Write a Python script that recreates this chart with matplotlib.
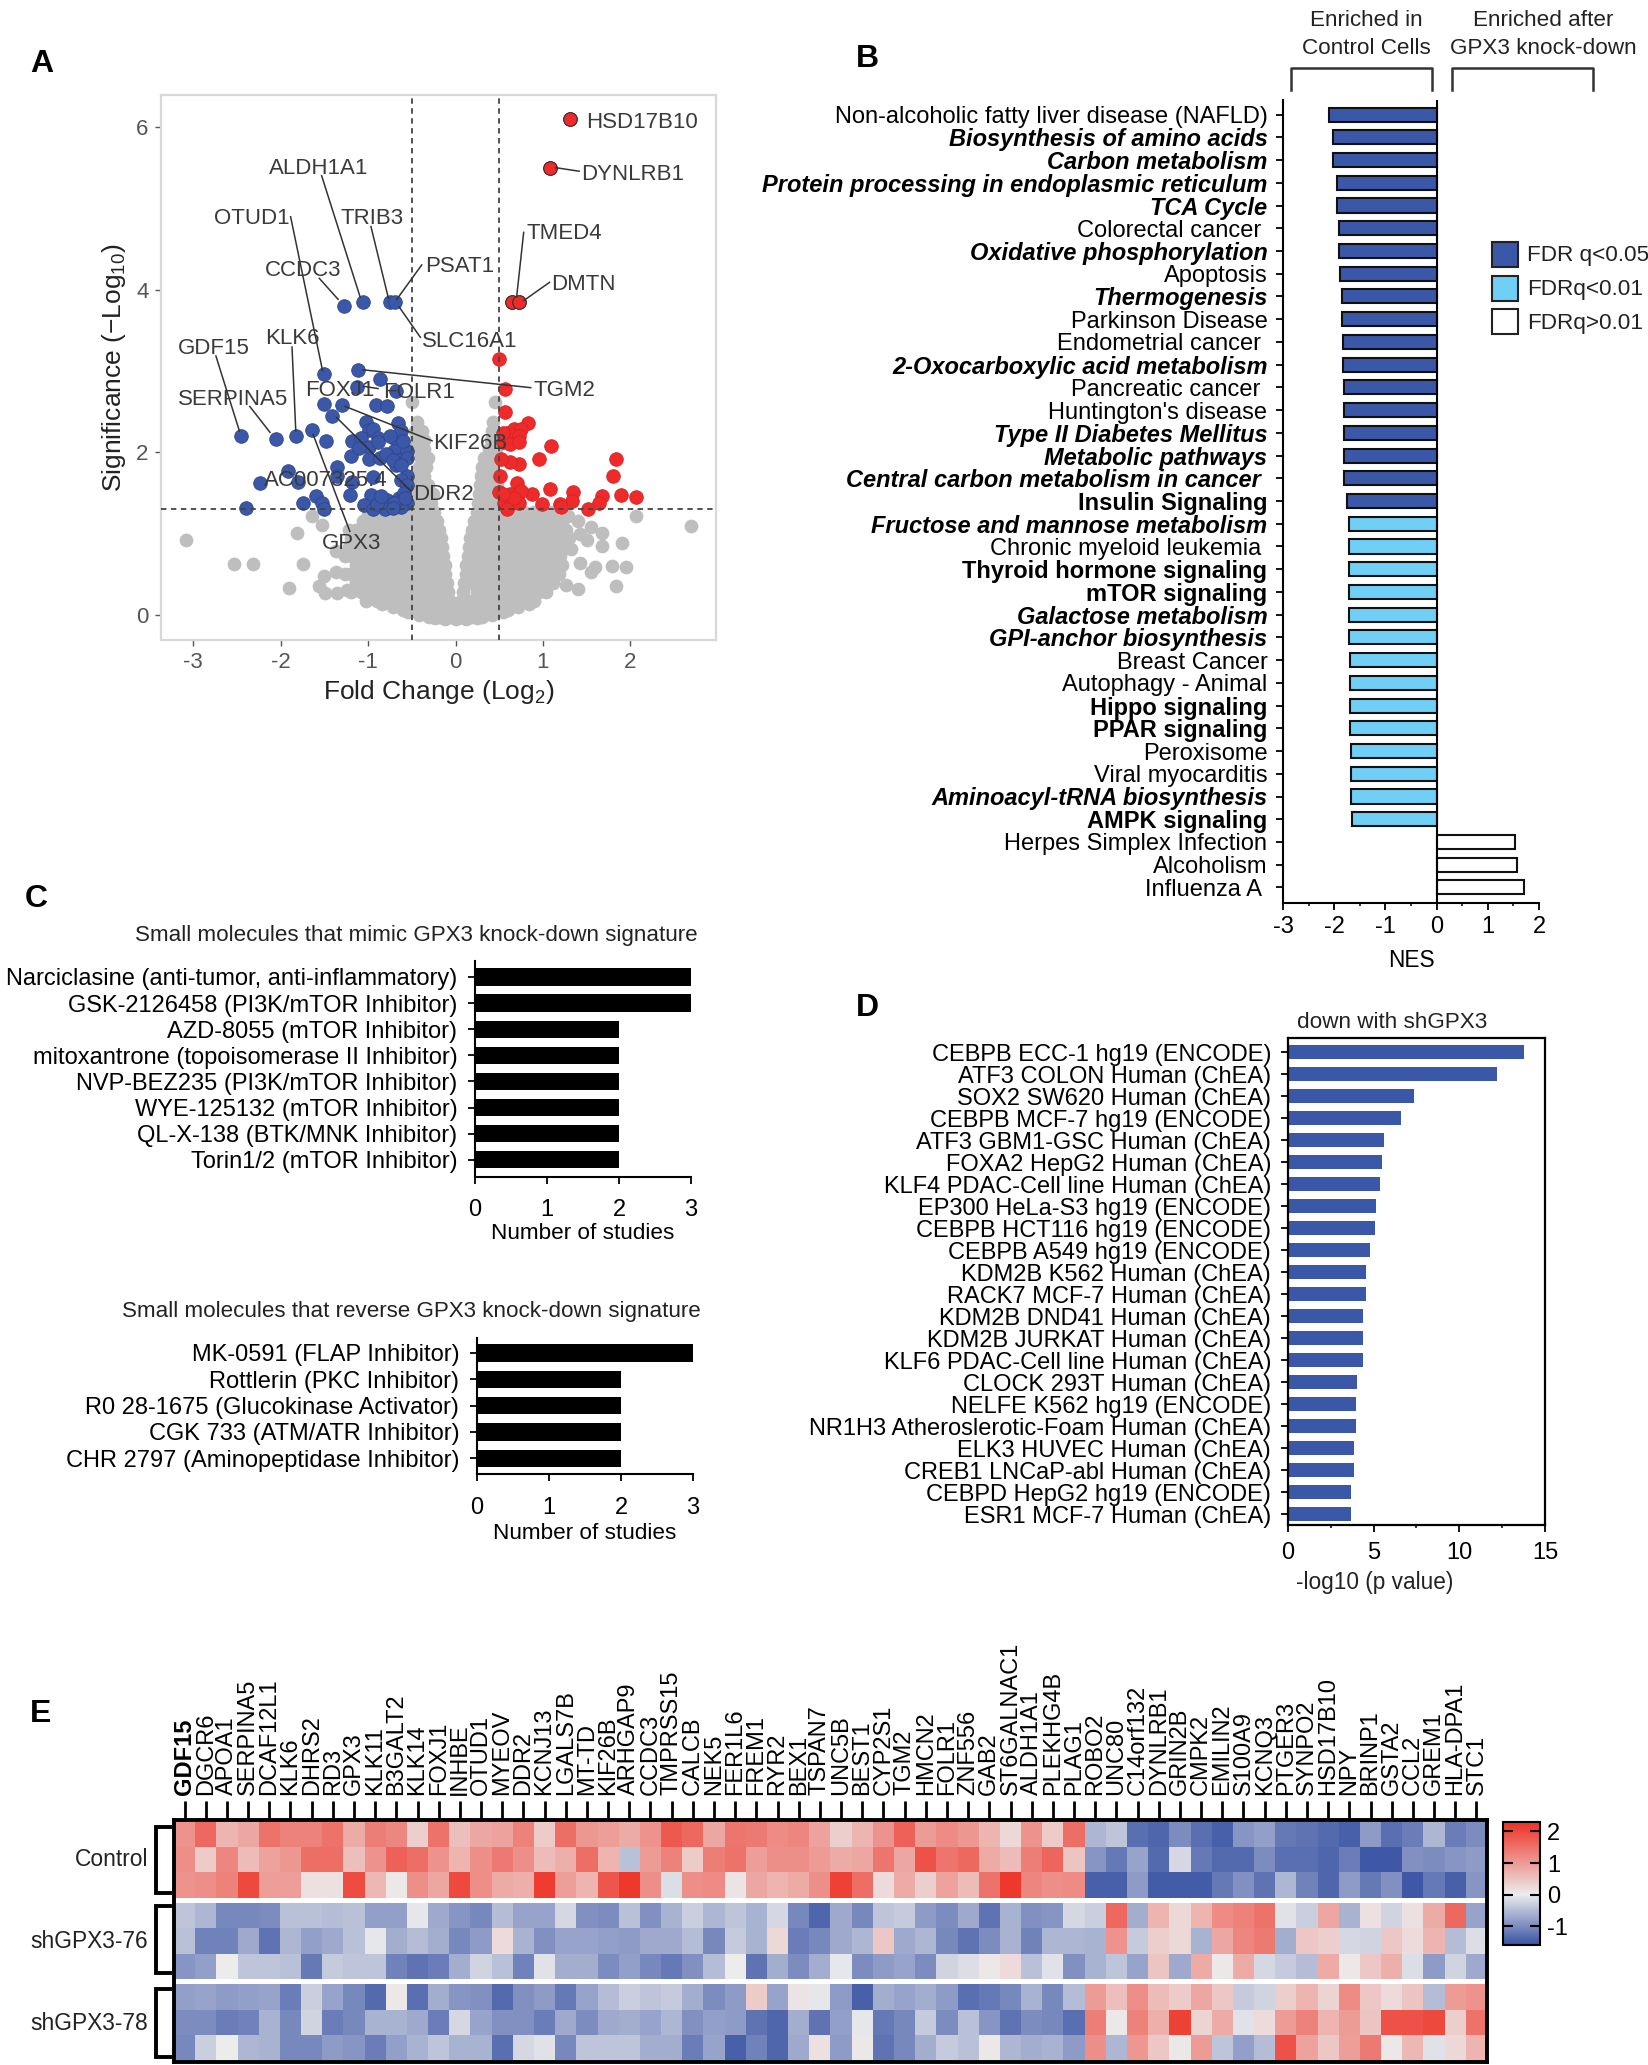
import numpy as np
import matplotlib
matplotlib.use("Agg")
import matplotlib.pyplot as plt
from matplotlib.colors import LinearSegmentedColormap, Normalize
from matplotlib.patches import Rectangle

plt.rcParams['font.family'] = ['Liberation Sans', 'DejaVu Sans']
plt.rcParams['mathtext.default'] = 'regular'
plt.rcParams['axes.unicode_minus'] = False

W, H = 1649, 2065
DARK = '#3B57A8'
LIGHT = '#6FCFF5'

# ---- panel A data
grey_levels = [-0.03, 0.06, 0.17, 0.28, 0.39, 0.50, 0.61, 0.72, 0.83, 0.94, 1.05, 1.16, 1.27,
               1.38, 1.49, 1.60, 1.71, 1.82, 1.93, 2.04, 2.15, 2.26, 2.37, 2.62]
grey_cols = [
    [-.30, -.18, -.06, .06, .18, .30],
    [-.60, -.48, -.36, -.24, -.12, 0, .12, .24, .36, .48, .60],
    [-1.02, -.90, -.78, -.66, -.54, -.42, -.30, -.18, -.06, .06, .18, .30, .42, .54, .66, .78, .90],
    [-1.20, -1.08, -.96, -.84, -.72, -.60, -.48, -.36, -.24, -.09, .09, .24, .36, .48, .60, .72, .84, .96, 1.04],
    [-1.14, -1.02, -.90, -.78, -.66, -.54, -.42, -.30, -.18, -.10, .10, .18, .30, .42, .54, .66, .78, .90, 1.02, 1.12],
    [-1.26, -1.20, -1.08, -.96, -.84, -.72, -.60, -.48, -.36, -.24, -.115, .115, .24, .36, .48, .60, .72, .84, .96, 1.08, 1.18],
    [-1.14, -1.02, -.90, -.78, -.66, -.54, -.42, -.30, -.18, -.125, .125, .18, .30, .42, .54, .66, .78, .90, 1.02, 1.14, 1.22],
    [-1.26, -1.20, -1.08, -.96, -.84, -.72, -.60, -.48, -.36, -.24, -.14, .14, .24, .36, .48, .60, .72, .84, .96, 1.08, 1.20],
    [-1.22, -1.14, -1.02, -.90, -.78, -.66, -.54, -.42, -.30, -.18, -.15, .15, .18, .30, .42, .54, .66, .78, .90, 1.02, 1.14, 1.26],
    [-1.20, -1.08, -.96, -.84, -.72, -.60, -.48, -.36, -.24, -.17, .17, .24, .36, .48, .60, .72, .84, .96, 1.08, 1.20, 1.30],
    [-1.22, -1.14, -1.02, -.90, -.78, -.66, -.54, -.42, -.30, -.19, .19, .30, .42, .54, .66, .78, .90, 1.02, 1.14, 1.26],
    [-1.06, -.96, -.84, -.72, -.60, -.48, -.36, -.215, .215, .36, .48, .60, .72, .84, .96, 1.08, 1.22],
    [-1.0, -.90, -.78, -.66, -.54, -.42, -.30, -.245, .245, .30, .42, .54, .66, .78, .90, .98, 1.10],
    [-.52, -.40, -.28, .26, .38, .50],
    [-.46, -.34, -.26, .27, .32, .44],
    [-.52, -.42, -.32, .28, .38, .48],
    [-.46, -.36, .29, .42],
    [-.42, -.34, .30, .40],
    [-.40, -.32, .32, .44],
    [-.44, -.36, .38, .46],
    [-.46, -.36, .40, .46],
    [-.46, -.38, .42],
    [-.44, .43],
    [-.50, .45],
]
grey_out_x = [-3.08, -2.54, -2.32, -1.9, -1.74, -1.81, -1.64, -1.53, -1.5, -1.37, -1.56, -1.49, -1.36, -1.24, -1.37,
              2.69, 2.07, 1.68, 1.68, 1.91, 1.55, 1.42, 1.5, 1.79, 1.95, 1.55, 1.59, 1.84, 1.4, 1.26, 1.42, 1.32, 1.16, 1.29, 1.4,
              -.42, .42, -.72, .72, -.84, .84, 0, -.12, .12, -.24, .24, -.54, .54]
grey_out_y = [.92, .63, .62, .33, .63, 1.01, 1.22, 1.11, .48, .53, .36, .27, .27, .31, .78,
              1.09, 1.22, 1.01, .85, .89, 1.08, 1.0, .92, .6, .59, .53, .59, .36, .32, .37, .64, .81, 1.16, 1.22, 1.16,
              0.0, 0.0, .1, .1, .13, .13, -.05, -.05, -.05, -.04, -.04, .03, .03]

blue_x = [-2.46, -2.05, -1.83, -1.64, -1.5, -1.12, -.86, -1.13, -.68, -1.5, -1.3, -.91, -.78, -1.41, -1.03, -.66,
          -.99, -.94, -1.48, -1.18, -1.08, -.89, -.7, -.62, -1.2, -.99, -.89, -.7, -.56, -.99, -.86, -.65, -.56, -.68,
          -1.36, -1.92, -2.24, -1.8, -1.36, -.94, -.55, -.62, -.56, -1.18, -1.21, -.97, -1.6, -1.53, -1.75, -2.4,
          -1.5, -1.05, -.95, -.78, -.65, -.56, -.59, -.67, -.81, -.62, -.75, -.69, -1.06, -1.28,
          -.75, -.6, -.8, -1.1, -.72, -.62, -.7, -.9, -.58, -.85, -.72]
blue_y = [2.2, 2.17, 2.2, 2.27, 2.96, 3.02, 2.9, 2.81, 2.75, 2.6, 2.58, 2.58, 2.57, 2.45, 2.37, 2.36,
          2.27, 2.29, 2.14, 2.14, 2.18, 2.18, 2.18, 2.26, 1.96, 2.07, 2.13, 2.02, 2.02, 1.92, 1.93, 1.91, 1.93, 1.85,
          1.82, 1.77, 1.62, 1.64, 1.71, 1.7, 1.71, 1.66, 1.6, 1.63, 1.48, 1.48, 1.46, 1.38, 1.38, 1.32,
          1.3, 1.35, 1.3, 1.41, 1.44, 1.38, 1.5, 1.36, 1.3, 1.33, 3.85, 3.85, 3.85, 3.8,
          2.2, 2.14, 1.98, 2.05, 1.9, 1.84, 1.38, 1.36, 1.44, 1.46, 1.32]
red_x = [1.31, 1.08, .65, .73, .5, .57, .57, .83, 1.09, .96, .73, .62, .52, 1.84, 1.8, 2.06, 1.89, 1.68, 1.64, 1.51,
         1.34, 1.33, 1.2, 1.21, 1.08, .99, .87, .7, .51, .5, .72, .62, .75, .56, .65, .59, .73, .67, .54,
         .54, .59, .67, .75, .65, .73, .54, .62, .73]
red_y = [6.11, 5.5, 3.85, 3.85, 3.15, 2.78, 2.5, 2.36, 2.08, 1.92, 1.86, 1.88, 1.92, 1.92, 1.71, 1.45, 1.47, 1.46, 1.38, 1.3,
         1.51, 1.4, 1.37, 1.33, 1.55, 1.37, 1.49, 1.62, 1.71, 1.51, 1.49, 1.49, 1.52, 1.38, 1.38, 1.3, 1.38, 1.44, 1.49,
         2.13, 2.24, 2.29, 2.29, 2.21, 2.2, 2.24, 2.1, 2.13]

# ---- panel B data
kegg_names = ['Non-alcoholic fatty liver disease (NAFLD)', 'Biosynthesis of amino acids', 'Carbon metabolism',
              'Protein processing in endoplasmic reticulum', 'TCA Cycle', 'Colorectal cancer ',
              'Oxidative phosphorylation', 'Apoptosis', 'Thermogenesis', 'Parkinson Disease', 'Endometrial cancer ',
              '2-Oxocarboxylic acid metabolism', 'Pancreatic cancer ', "Huntington's disease",
              'Type II Diabetes Mellitus', 'Metabolic pathways', 'Central carbon metabolism in cancer ',
              'Insulin Signaling', 'Fructose and mannose metabolism', 'Chronic myeloid leukemia ',
              'Thyroid hormone signaling', 'mTOR signaling', 'Galactose metabolism', 'GPI-anchor biosynthesis',
              'Breast Cancer', 'Autophagy - Animal', 'Hippo signaling', 'PPAR signaling', 'Peroxisome',
              'Viral myocarditis', 'Aminoacyl-tRNA biosynthesis', 'AMPK signaling', 'Herpes Simplex Infection',
              'Alcoholism', 'Influenza A ']
kegg_nes = [-2.11, -2.03, -2.03, -1.95, -1.95, -1.9, -1.9, -1.88, -1.85, -1.85, -1.82, -1.82, -1.8, -1.8, -1.8, -1.8,
            -1.8, -1.75, -1.72, -1.72, -1.72, -1.72, -1.72, -1.72, -1.7, -1.7, -1.7, -1.7, -1.68, -1.68, -1.68, -1.65,
            1.54, 1.57, 1.7]
kegg_style = ['n', 'bi', 'bi', 'bi', 'bi', 'n', 'bi', 'n', 'bi', 'n', 'n', 'bi', 'n', 'n', 'bi', 'bi', 'bi', 'b',
              'bi', 'n', 'b', 'b', 'bi', 'bi', 'n', 'n', 'b', 'b', 'n', 'n', 'bi', 'b', 'n', 'n', 'n']
kegg_level = [0] * 18 + [1] * 14 + [2] * 3
level_colors = [DARK, LIGHT, 'white']
legend_names = ['FDR q<0.05', 'FDRq<0.01', 'FDRq>0.01']

# ---- panel C data
mimic_names = ['Narciclasine (anti-tumor, anti-inflammatory)', 'GSK-2126458 (PI3K/mTOR Inhibitor)',
               'AZD-8055 (mTOR Inhibitor)', 'mitoxantrone (topoisomerase II Inhibitor)',
               'NVP-BEZ235 (PI3K/mTOR Inhibitor)', 'WYE-125132 (mTOR Inhibitor)', 'QL-X-138 (BTK/MNK Inhibitor)',
               'Torin1/2 (mTOR Inhibitor)']
mimic_vals = [3, 3, 2, 2, 2, 2, 2, 2]
reverse_names = ['MK-0591 (FLAP Inhibitor)', 'Rottlerin (PKC Inhibitor)', 'R0 28-1675 (Glucokinase Activator)',
                 'CGK 733 (ATM/ATR Inhibitor)', 'CHR 2797 (Aminopeptidase Inhibitor)']
reverse_vals = [3, 2, 2, 2, 2]

# ---- panel D data
tf_names = ['CEBPB ECC-1 hg19 (ENCODE)', 'ATF3 COLON Human (ChEA)', 'SOX2 SW620 Human (ChEA)',
            'CEBPB MCF-7 hg19 (ENCODE)', 'ATF3 GBM1-GSC Human (ChEA)', 'FOXA2 HepG2 Human (ChEA)',
            'KLF4 PDAC-Cell line Human (ChEA)', 'EP300 HeLa-S3 hg19 (ENCODE)', 'CEBPB HCT116 hg19 (ENCODE)',
            'CEBPB A549 hg19 (ENCODE)', 'KDM2B K562 Human (ChEA)', 'RACK7 MCF-7 Human (ChEA)',
            'KDM2B DND41 Human (ChEA)', 'KDM2B JURKAT Human (ChEA)', 'KLF6 PDAC-Cell line Human (ChEA)',
            'CLOCK 293T Human (ChEA)', 'NELFE K562 hg19 (ENCODE)', 'NR1H3 Atheroslerotic-Foam Human (ChEA)',
            'ELK3 HUVEC Human (ChEA)', 'CREB1 LNCaP-abl Human (ChEA)', 'CEBPD HepG2 hg19 (ENCODE)',
            'ESR1 MCF-7 Human (ChEA)']
tf_vals = [13.8, 12.2, 7.35, 6.6, 5.6, 5.5, 5.35, 5.15, 5.05, 4.8, 4.55, 4.55, 4.35, 4.35, 4.35, 4.0, 3.95, 3.95, 3.85,
           3.85, 3.7, 3.7]

# ---- panel E data
genes = ['GDF15', 'DGCR6', 'APOA1', 'SERPINA5', 'DCAF12L1', 'KLK6', 'DHRS2', 'RD3', 'GPX3', 'KLK11', 'B3GALT2', 'KLK14',
         'FOXJ1', 'INHBE', 'OTUD1', 'MYEOV', 'DDR2', 'KCNJ13', 'LGALS7B', 'MT-TD', 'KIF26B', 'ARHGAP9', 'CCDC3',
         'TMPRSS15', 'CALCB', 'NEK5', 'FER1L6', 'FREM1', 'RYR2', 'BEX1', 'TSPAN7', 'UNC5B', 'BEST1', 'CYP2S1', 'TGM2',
         'HMCN2', 'FOLR1', 'ZNF556', 'GAB2', 'ST6GALNAC1', 'ALDH1A1', 'PLEKHG4B', 'PLAG1', 'ROBO2', 'UNC80', 'C14orf132',
         'DYNLRB1', 'GRIN2B', 'CMPK2', 'EMILIN2', 'S100A9', 'KCNQ3', 'PTGER3', 'SYNPO2', 'HSD17B10', 'NPY', 'BRINP1',
         'GSTA2', 'CCL2', 'GREM1', 'HLA-DPA1', 'STC1']
control_1 = [1.1, 1.6, .7, .85, 1.5, 1.3, 1.3, 1.5, .8, 1.35, 1.25, .35, 1.5, .55, .85, .9, 1.3, .4, 1.55, 1.05, .95, .8,
             1.1, 1.8, 1.6, .85, 1.45, 1.4, 1.2, 1.25, .9, .35, .7, 1.1, 1.7, 1.0, 1.2, 1.05, .7, .25, 1.1, .4, 1.55,
             -.55, -.4, -1.3, -1.4, -1.0, -1.3, -1.45, -.9, -.8, -1.2, -1.25, -1.35, -1.45, -.85, -1.3, -1.15, -.55, -1.15, -1.0]
control_2 = [1.15, .4, 1.25, .6, .9, 1.05, 1.55, 1.55, .55, 1.1, 1.7, 1.55, 1.1, .7, 1.15, 1.4, 1.15, .6, .75, 1.55, .7, -.45,
             1.0, 1.3, .4, 1.35, 1.5, .95, 1.15, 1.15, 1.0, .8, .85, 1.45, .85, 1.9, 1.45, 1.6, .8, .6, 1.35, 1.65, .5,
             -.9, -1.2, -.75, -1.35, -.2, -1.2, -1.35, -1.35, -1.0, -1.3, -1.3, -1.4, -1.15, -1.55, -1.55, -.95, -1.0, -.9, -.85]
control_3 = [1.1, 1.15, 1.3, 2.0, .95, .95, .15, .15, 1.95, .65, .05, 1.15, .85, 2.0, 1.15, .8, .75, 2.15, .95, .7, 1.85, 2.2,
             1.15, -.15, 1.15, 1.2, .1, .85, .7, .8, 1.15, 2.1, 1.55, .2, .8, .35, .9, .6, 1.5, 2.2, 1.25, 1.15, 1.2,
             -1.45, -1.45, -.85, -1.5, -1.5, -1.5, -1.2, -.95, -1.25, -.55, -1.1, -1.4, -.85, -1.2, -.95, -1.55, -1.2, -1.45, -.9]
sh76_1 = [-.4, -.55, -1.05, -1.05, -1.0, -.45, -.45, -.5, -.45, -.8, -.8, -.05, -.7, -.9, -1.05, -.5, -.75, -.75, -.2, -.95,
          -1.0, -.45, -.95, -.6, -.3, -.55, -.4, -.6, -.2, -1.05, -1.4, -.7, -1.05, -.4, -.35, -.85, -1.0, -.7, -1.25, -.6,
          -.95, -.9, -.2, -.3, 1.6, -.65, .7, .25, .7, 1.2, 1.3, 1.5, -.1, -.3, .85, -.6, .15, -.25, .15, .8, 1.6, -.75]
sh76_2 = [-.45, -1.1, -1.1, -.7, -1.25, -.55, -.8, -.7, -.45, -.05, -.65, -.5, -.65, -1.05, -.85, .2, -.6, -.95, -.75, -.75,
          -.8, -.85, -.7, -.7, -.5, -1.05, -.35, -.6, .25, -1.15, -1.05, -.7, -.55, .45, -.7, -.55, -1.05, -1.25, -1.0, -.6,
          -1.1, -.55, -.55, -.6, 1.1, -.35, .35, .25, -.6, .85, 1.25, 1.4, -.65, .45, .35, -.2, -.25, .45, .2, .7, -.5, -.15]
sh76_3 = [-.9, -.8, 0, -.4, -.4, -.45, -1.2, -.35, -.4, -.4, -1.1, -1.25, -1.15, -.65, -.25, -.45, -1.1, -.1, -.65, -.65,
          -1.0, -.8, -1.05, -1.2, -.95, -.5, 0, -1.25, -.65, -1.0, -.65, -.05, -1.0, -.85, -.75, -1.0, -.25, -.15, .05, .2,
          -.45, -.1, -.95, -.6, -.4, -.75, .5, -.7, .8, .05, .8, -.2, -.35, -.5, .8, .05, .45, .75, -.15, -.85, -.25, -.7]
sh78_1 = [-.8, -.75, -.85, -.8, -.75, -1.15, -.3, -.75, -1.05, -1.35, .05, -1.3, -.65, -.9, -.95, -1.35, -.95, -.85, -1.2, -.75,
          -.5, -.3, -.4, -.35, -.65, -1.0, -.85, .4, -.75, .1, -.05, -.85, -1.45, -.65, -.75, -.65, -.85, -1.3, -1.2, -1.05,
          -.6, -1.05, -.5, 1.0, .55, 1.15, .6, .4, .85, .45, -.35, -.25, .35, .7, .3, 1.2, .45, .2, .5, -.5, 1.0, 1.1]
sh78_2 = [-1.0, -1.0, -1.15, -1.1, -.6, -1.05, -.25, -1.15, -1.05, -.6, -.6, -.7, -1.15, -.2, -.75, -.95, -.95, -1.15, -.7, -1.0,
          -.7, -.65, -.75, -.55, -.95, -.8, -.85, -1.25, -1.4, -.65, -1.25, -.8, -.05, -1.2, -1.05, -.35, -1.0, -.45, -.9, -1.25,
          -1.0, -1.05, -1.3, 1.35, .05, 1.3, .75, 2.1, .3, .8, -.1, .2, 1.0, 1.3, .7, 1.0, .5, 1.9, 1.9, 2.0, .35, 1.5]
sh78_3 = [-1.05, -.3, 0, -.55, -.6, -1.05, -1.05, -.85, -.9, -1.15, -.8, -.6, -.4, -.6, -.6, -1.3, -.2, -.1, -1.05, -.4,
          -.4, -.4, -.65, -.65, -1.15, -.75, -1.45, -1.1, -1.4, -.7, .15, -.85, .05, -1.25, -1.05, -.65, -.35, -.45, .05, -.55,
          -.65, -.6, -.85, 1.15, -.55, 1.05, .45, .05, 1.0, -.4, -.8, -.5, 1.9, .9, .45, .95, 1.4, .05, .65, -.1, .25, .7]
row_groups = ['Control', 'shGPX3-76', 'shGPX3-78']

fig = plt.figure(figsize=(W / 100, H / 100), dpi=100, facecolor='white')


def add_ax(l, t, r, b):
    return fig.add_axes([l / W, 1 - b / H, (r - l) / W, (b - t) / H])


def set_rows(ax, t, b, first, step):
    ax.set_ylim((b - first) / step, (t - first) / step)


# overlay in pixels for letters, brackets and legends
lay = fig.add_axes([0, 0, 1, 1], zorder=5)
lay.set_xlim(0, W)
lay.set_ylim(H, 0)
lay.axis('off')
for letter, x, y in [('A', 42, 64), ('B', 867, 59), ('C', 36, 899), ('D', 867, 1008), ('E', 41, 1714)]:
    lay.text(x, y, letter, fontsize=23, fontweight='bold', ha='center', va='center')

# ---- A
ax = add_ax(161, 95, 716, 640)
grey_x = [v for row in grey_cols for v in row]
grey_y = [lev for lev, row in zip(grey_levels, grey_cols) for v in row]
ax.scatter(grey_x, grey_y, s=98, color='#BEBEBE', lw=0, zorder=2)
ax.scatter(grey_out_x, grey_out_y, s=98, color='#BEBEBE', lw=0, zorder=2)
ax.scatter(blue_x, blue_y, s=96, color=DARK, edgecolor='#2F4690', lw=0.6, zorder=3)
ax.scatter(red_x, red_y, s=96, color='#EE2A2A', edgecolor='#D82424', lw=0.6, zorder=3)
ax.scatter(red_x[:4], red_y[:4], s=96, color='#EE2A2A', edgecolor='#333333', lw=0.8, zorder=4)
ax.set_xlim(-3.37, 2.98)
ax.set_ylim(-0.31, 6.40)
for v in [-0.5, 0.5]:
    ax.axvline(v, color='#444444', lw=1.3, ls=(0, (3, 2.5)), zorder=5)
ax.axhline(1.3, color='#444444', lw=1.3, ls=(0, (3, 2.5)), zorder=5)
ax.set_xticks([-3, -2, -1, 0, 1, 2])
ax.set_yticks([0, 2, 4, 6])
ax.tick_params(labelsize=16, colors='#555555', length=4, width=1, pad=5)
for s in ax.spines.values():
    s.set_color('#D8D8D8')
    s.set_linewidth(1.6)
ax.set_xlabel('Fold Change (Log$_2$)', fontsize=19, labelpad=3, color='#222222')
ax.set_ylabel('Significance (−Log$_{10}$)', fontsize=19, labelpad=6, color='#222222')


def zx(p):
    return (p - 965) / 186


def zy(p):
    return (1312 - p) / 182


vol_labels = [('ALDH1A1', 568, 306), ('OTUD1', 450, 420), ('TRIB3', 720, 420), ('PSAT1', 900, 527), ('TMED4', 1117, 453),
              ('DMTN', 1168, 567), ('CCDC3', 560, 535), ('SLC16A1', 893, 695), ('KLK6', 560, 688), ('GDF15', 375, 710),
              ('SERPINA5', 375, 824), ('FOXJ1', 645, 805), ('FOLR1', 810, 808), ('TGM2', 1130, 805), ('KIF26B', 918, 923),
              ('AC007325.4', 557, 1005), ('DDR2', 875, 1037), ('GPX3', 680, 1148), ('HSD17B10', 1242, 203),
              ('DYNLRB1', 1233, 320)]
vol_lines = [(680, 328, 762, 600), (614, 420, 682, 765), (785, 442, 822, 602), (893, 528, 840, 605), (1110, 455, 1095, 600),
             (1165, 567, 1110, 608), (675, 558, 715, 605), (890, 690, 845, 622), (617, 712, 625, 900), (455, 732, 505, 900),
             (527, 845, 570, 903), (1125, 803, 768, 763), (770, 800, 800, 805), (915, 922, 730, 845), (870, 1035, 712, 870),
             (740, 1125, 662, 908), (1228, 318, 1178, 310)]
for x0, y0, x1, y1 in vol_lines:
    ax.plot([zx(x0), zx(x1)], [zy(y0), zy(y1)], color='#333333', lw=1.1, zorder=6)
for name, px, py in vol_labels:
    ax.text(zx(px), zy(py + 5), name, fontsize=16, color='#3A3A3A', ha='left', va='center', zorder=7)

# ---- B
ax = add_ax(1283, 100, 1539, 903)
rows = np.arange(len(kegg_names))
ax.barh(rows, kegg_nes, height=0.62, color=[level_colors[i] for i in kegg_level], edgecolor='#111111', lw=1.5)
ax.axvline(0, color='black', lw=1.5)
ax.set_xlim(-3, 2)
set_rows(ax, 100, 903, 114.6, 22.73)
ax.set_xticks([-3, -2, -1, 0, 1, 2])
ax.set_xticks([-2.5, -1.5, -.5, .5, 1.5], minor=True)
ax.set_yticks(rows)
ax.set_yticklabels(kegg_names)
for lab, st in zip(ax.get_yticklabels(), kegg_style):
    if 'b' in st:
        lab.set_fontweight('bold')
    if 'i' in st:
        lab.set_fontstyle('italic')
ax.tick_params(axis='y', labelsize=17, length=4.7, width=1.3, pad=6.5)
ax.tick_params(axis='x', labelsize=17, length=4.7, width=1.3, pad=4.5)
ax.tick_params(axis='x', which='minor', length=2.5, width=1.1)
ax.spines[['top', 'right']].set_visible(False)
ax.spines[['left', 'bottom']].set_linewidth(1.5)
ax.set_xlabel('NES', fontsize=16.3, labelpad=8)
for cx, l1, l2 in [(1366, 'Enriched in', 'Control Cells'), (1543, 'Enriched after', 'GPX3 knock-down')]:
    lay.text(cx, 20, l1, fontsize=16.2, ha='center', va='center', color='#222222')
    lay.text(cx, 48, l2, fontsize=16.2, ha='center', va='center', color='#222222')
for x0, x1 in [(1291, 1432), (1452, 1593)]:
    lay.plot([x0, x0, x1, x1], [90, 68, 68, 90], color='#333333', lw=1.8)
for i, (name, col) in enumerate(zip(legend_names, level_colors)):
    y0 = [242, 276, 309][i]
    lay.add_patch(Rectangle((1492, y0), 26, 25, fc=col, ec='#222222', lw=1.5))
    lay.text(1527, y0 + 14, name, fontsize=16.2, va='center', color='#222222')

# ---- C
for names, vals, box, first, step, title, tx, ty, lpad in [
        (mimic_names, mimic_vals, (475, 961, 691, 1177), 977, 26.1,
         'Small molecules that mimic GPX3 knock-down signature', 416, 936, 1),
        (reverse_names, reverse_vals, (477, 1338, 693, 1474), 1353, 26.3,
         'Small molecules that reverse GPX3 knock-down signature', 411, 1312, 3)]:
    ax = add_ax(*box)
    r = np.arange(len(names))
    ax.barh(r, vals, height=0.66, color='black')
    ax.set_xlim(0, 3)
    set_rows(ax, box[1], box[3], first, step)
    ax.set_xticks([0, 1, 2, 3])
    ax.set_yticks(r)
    ax.set_yticklabels(names)
    ax.tick_params(axis='x', labelsize=17, length=4.7, width=1.3, pad=11.5)
    ax.tick_params(axis='y', labelsize=17, length=4.7, width=1.3, pad=8)
    ax.spines[['top', 'right']].set_visible(False)
    ax.spines[['left', 'bottom']].set_linewidth(1.5)
    ax.set_xlabel('Number of studies', fontsize=16.2, labelpad=lpad)
    lay.text(tx, ty, title, fontsize=16.1, ha='center', va='center', color='#222222')

# ---- D
ax = add_ax(1288, 1038, 1545, 1525)
r = np.arange(len(tf_names))
ax.barh(r, tf_vals, height=0.6, color=DARK)
ax.set_xlim(0, 15)
set_rows(ax, 1038, 1525, 1052, 22.0)
ax.set_xticks([0, 5, 10, 15])
ax.set_xticks([2.5, 7.5, 12.5], minor=True)
ax.set_yticks(r)
ax.set_yticklabels(tf_names)
ax.tick_params(axis='x', labelsize=17, length=4.7, width=1.3, pad=7.5)
ax.tick_params(axis='x', which='minor', length=2.5, width=1.1)
ax.tick_params(axis='y', labelsize=17, length=4.7, width=1.3, pad=7.5)
for s in ax.spines.values():
    s.set_linewidth(1.6)
lay.text(1375, 1582, '-log10 (p value)', fontsize=16.3, ha='center', va='center', color='#222222')
lay.text(1297, 1022, 'down with shGPX3', fontsize=16.2, ha='left', va='center', color='#222222')

# ---- E
cmap = LinearSegmentedColormap.from_list('bwr2', [(0, '#3953A4'), (1.6 / 3.9, '#ECECEC'), (1, '#EE3124')])
norm = Normalize(-1.6, 2.3)
ax = add_ax(174, 1820, 1487, 2062)
blocks = [[control_1, control_2, control_3], [sh76_1, sh76_2, sh76_3], [sh78_1, sh78_2, sh78_3]]
for k, block in enumerate(blocks):
    ys = np.array([0, 1, 2, 3]) + k * 3.21
    ax.pcolormesh(np.arange(len(genes) + 1), ys, np.array(block), cmap=cmap, norm=norm, lw=0, rasterized=True)
ax.set_xlim(0, len(genes))
ax.set_ylim(9.48, -0.06)
ax.xaxis.tick_top()
ax.set_xticks(np.arange(len(genes)) + 0.5)
ax.set_xticklabels(genes, rotation=90, fontsize=17)
ax.get_xticklabels()[0].set_fontweight('bold')
ax.tick_params(axis='x', length=14, width=2, pad=4)
ax.set_yticks([])
for s in ax.spines.values():
    s.set_linewidth(2.8)
for (y0, y1), name, cy in zip([(1827, 1893), (1906, 1973), (1989, 2057)], row_groups, [1859, 1942, 2024]):
    lay.plot([170, 156, 156, 170], [y0, y0, y1, y1], color='black', lw=2.8, solid_joinstyle='miter')
    lay.text(148, cy, name, fontsize=16.4, ha='right', va='center', color='#222222')

cax = add_ax(1503, 1822, 1540, 1945)
sm = plt.cm.ScalarMappable(norm=norm, cmap=cmap)
cb = fig.colorbar(sm, cax=cax, ticks=[-1, 0, 1, 2])
cb.ax.tick_params(labelsize=17, length=7, width=1.5, direction='in', left=True, right=True, pad=5)
cb.outline.set_linewidth(1.5)

fig.savefig('out.png', dpi=100)
